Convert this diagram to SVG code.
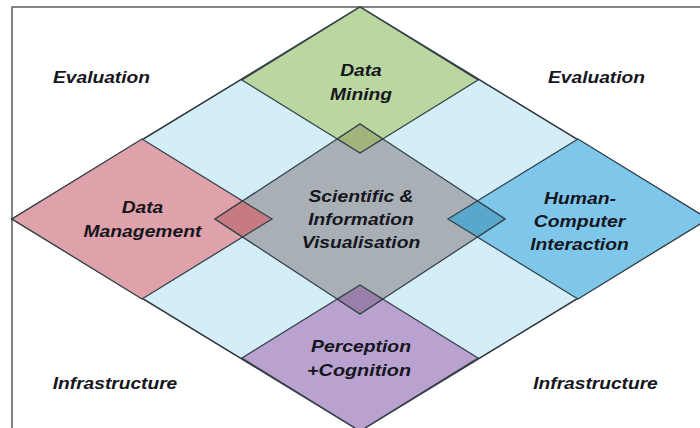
<svg xmlns="http://www.w3.org/2000/svg" width="700" height="428" viewBox="0 0 700 428">
<style>
.cell{stroke:#36444c;stroke-width:1.3;stroke-linejoin:miter}
.lbl{font-family:"Liberation Sans",Arial,Helvetica,sans-serif;font-weight:bold;font-style:italic;font-size:17px;fill:#16161e;text-anchor:middle}
</style>
<rect width="700" height="428" fill="#ffffff"/>
<rect x="12" y="7" width="720" height="440" fill="none" stroke="#666666" stroke-width="1.6"/>
<g id="field">
<polygon points="360,7 708,219 360,431 12,219" fill="#d4eef9" stroke="#2c3338" stroke-width="1.6"/>
</g>
<g id="data-mining">
<polygon class="cell" points="360,7 478,80 360,153 242,80" fill="#bbd7a0"/>
</g>
<g id="data-management">
<polygon class="cell" points="142,139 272,219 142,299 12,219" fill="#e0a2aa"/>
</g>
<g id="hci">
<polygon class="cell" points="578,139 708,219 578,299 448,219" fill="#7fc7ea"/>
</g>
<g id="perception">
<polygon class="cell" points="360,285 478,358 360,431 242,358" fill="#b9a2cf"/>
</g>
<g id="scivis">
<polygon class="cell" points="360,124 505,219 360,314 215,219" fill="#a8afb5"/>
</g>
<g id="overlaps">
<polygon class="cell" points="360,124 382.76,138.92 360,153 337.24,138.92" fill="#a2b47c"/>
<polygon class="cell" points="360,285 382.76,299.08 360,314 337.24,299.08" fill="#9a7fab"/>
<polygon class="cell" points="215,219 242.61,200.91 272,219 242.61,237.09" fill="#c87a83"/>
<polygon class="cell" points="448,219 477.39,200.91 505,219 477.39,237.09" fill="#5aa7cd"/>
</g>
<g id="connectors"></g>
<g id="labels">
<text class="lbl" x="101.5" y="83" textLength="97" lengthAdjust="spacingAndGlyphs">Evaluation</text>
<text class="lbl" x="596.5" y="83" textLength="97" lengthAdjust="spacingAndGlyphs">Evaluation</text>
<text class="lbl" x="115" y="389" textLength="124.5" lengthAdjust="spacingAndGlyphs">Infrastructure</text>
<text class="lbl" x="595.5" y="389" textLength="124.5" lengthAdjust="spacingAndGlyphs">Infrastructure</text>
<text class="lbl" x="361" y="76" textLength="41.6" lengthAdjust="spacingAndGlyphs">Data</text>
<text class="lbl" x="361" y="100" textLength="62" lengthAdjust="spacingAndGlyphs">Mining</text>
<text class="lbl" x="142.5" y="213" textLength="41.6" lengthAdjust="spacingAndGlyphs">Data</text>
<text class="lbl" x="142.5" y="237" textLength="118" lengthAdjust="spacingAndGlyphs">Management</text>
<text class="lbl" x="361" y="202" textLength="105" lengthAdjust="spacingAndGlyphs">Scientific &amp;</text>
<text class="lbl" x="361" y="225" textLength="105.5" lengthAdjust="spacingAndGlyphs">Information</text>
<text class="lbl" x="361" y="248" textLength="118.5" lengthAdjust="spacingAndGlyphs">Visualisation</text>
<text class="lbl" x="580" y="204" textLength="72" lengthAdjust="spacingAndGlyphs">Human-</text>
<text class="lbl" x="579.5" y="227" textLength="91.5" lengthAdjust="spacingAndGlyphs">Computer</text>
<text class="lbl" x="579.5" y="250" textLength="98.5" lengthAdjust="spacingAndGlyphs">Interaction</text>
<text class="lbl" x="361" y="352" textLength="100" lengthAdjust="spacingAndGlyphs">Perception</text>
<text class="lbl" x="359" y="376" textLength="104" lengthAdjust="spacingAndGlyphs">+Cognition</text>
</g>
</svg>
